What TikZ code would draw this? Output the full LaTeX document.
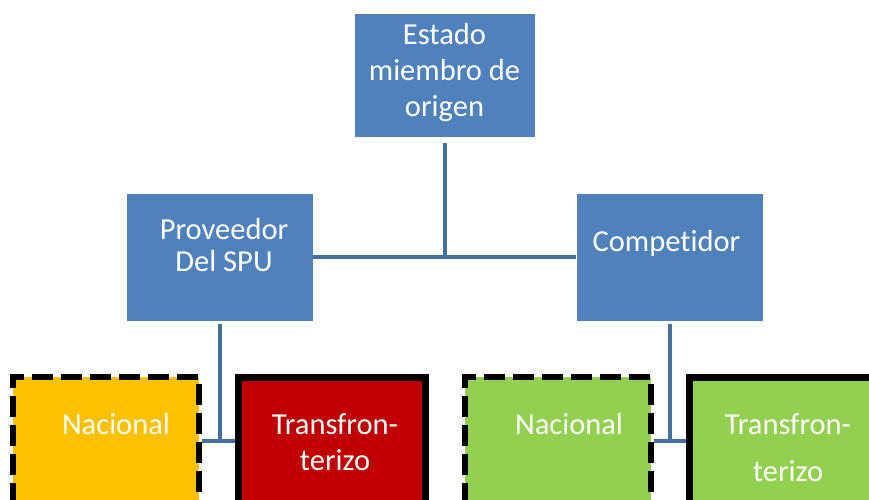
\documentclass[tikz,border=0pt]{standalone}
\usepackage{fontspec}
\setmainfont{Carlito}[Ligatures=NoCommon]

\definecolor{boxblue}{HTML}{4F81BD}
\definecolor{linkblue}{HTML}{41719C}
\definecolor{natyellow}{HTML}{FFC000}
\definecolor{crossred}{HTML}{C00000}
\definecolor{compgreen}{HTML}{92D050}

\tikzset{
	bluebox/.style={rectangle, fill=boxblue, draw=white, line width=.8pt, minimum width=187pt, minimum height=128pt},
	nacbox/.style={rectangle, draw=black, line width=6pt, dash pattern=on 21pt off 8pt, dash phase=3.5pt, minimum width=186pt, minimum height=128pt},
	transbox/.style={rectangle, draw=black, line width=7pt, minimum width=187pt, minimum height=128pt},
	boxtext/.style={text=white, align=center, font=\fontsize{30.5}{36}\selectfont},
	link/.style={linkblue, line width=4pt},
}

\begin{document}
\begin{tikzpicture}[x=1pt, y=-1pt]
		\useasboundingbox (0,0) rectangle (869,499);
		\clip (0,0) rectangle (869,499);
		
		\node[bluebox, minimum width=181pt, minimum height=124pt] (estado) at (444.5,75) {};
		\node[bluebox] (proveedor) at (219.5,257) {};
		\node[bluebox] (competidor) at (669.5,257) {};
		
		\node[nacbox, fill=natyellow] (nacA) at (106.25,441) {};
		\node[transbox, fill=crossred] (transA) at (331.75,441) {};
		\node[nacbox, fill=compgreen] (nacB) at (558.25,441) {};
		\node[transbox, fill=compgreen] (transB) at (783.25,441) {};
		
		\node[boxtext] (estado-t) at (444.5,73) {Estado\\miembro de\\origen};
		\node[boxtext, font=\fontsize{30.5}{32}\selectfont] (proveedor-t) at (224,245) {Proveedor\\Del SPU};
		\node[boxtext] (competidor-t) at (666.5,243) {Competidor};
		\node[boxtext] (nacA-t) at (116,424) {Nacional};
		\node[boxtext] (transA-t) at (335,442) {Transfron-\\terizo};
		\node[boxtext] (nacB-t) at (569,424) {Nacional};
		\node[boxtext, font=\fontsize{30.5}{47}\selectfont] (transB-t) at (788,447.5) {Transfron-\\terizo};
		
		\draw[link] ([yshift=-6pt]estado.south) -- (estado.south |- proveedor.east);
		\draw[link] (proveedor.east) -- (competidor.west);
		\draw[link] ([yshift=-3pt]proveedor.south) -- (proveedor.south |- nacA.east);
		\draw[link] (nacA.east) -- (transA.west);
		\draw[link] ([yshift=-3pt]competidor.south) -- (competidor.south |- nacB.east);
		\draw[link] (nacB.east) -- (transB.west);
	\end{tikzpicture}
\end{document}
